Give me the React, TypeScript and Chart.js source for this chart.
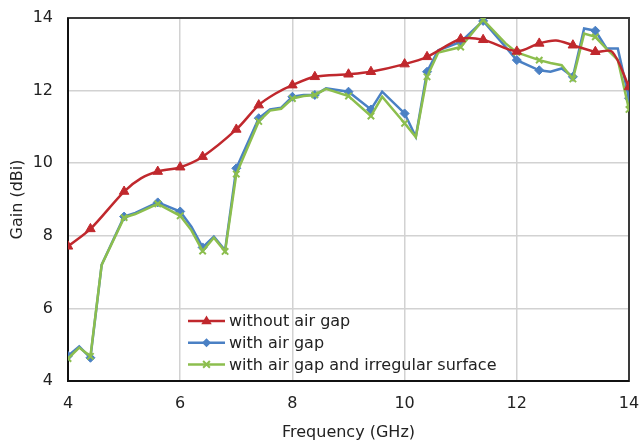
import { useEffect, useRef } from 'react';
import { Chart, registerables } from 'chart.js';

Chart.register(...registerables);

const FONT = '"DejaVu Sans", "Liberation Sans", sans-serif';

const xTicks = [4, 6, 8, 10, 12, 14];
const yTicks = [4, 6, 8, 10, 12, 14];

const seriesLabels = ['without air gap', 'with air gap', 'with air gap and irregular surface'];
const seriesColors = ['#C0282D', '#4A80C4', '#8CBE4E'];
const seriesMarkers = ['triangle', 'rectRot', 'crossRot'];

const redFreq = [4, 4.4, 5, 5.3, 5.6, 6, 6.4, 7, 7.4, 7.7, 8, 8.4, 9, 9.4, 10, 10.4, 11, 11.4, 12, 12.4, 12.7, 13, 13.4, 13.7, 14];
const redGain = [7.71, 8.19, 9.22, 9.58, 9.77, 9.89, 10.18, 10.93, 11.6, 11.92, 12.15, 12.38, 12.45, 12.52, 12.73, 12.93, 13.42, 13.4, 13.08, 13.3, 13.38, 13.25, 13.07, 13.07, 12.1];
const redMarkers = [4, 4.4, 5, 5.6, 6, 6.4, 7, 7.4, 8, 8.4, 9, 9.4, 10, 10.4, 11, 11.4, 12, 12.4, 13, 13.4, 14];

const gapFreq = [4, 4.2, 4.4, 4.6, 5, 5.2, 5.6, 6, 6.2, 6.4, 6.6, 6.8, 7, 7.4, 7.6, 7.8, 8, 8.2, 8.4, 8.6, 9, 9.4, 9.6, 10, 10.2, 10.4, 10.6, 11, 11.4, 11.8, 12, 12.4, 12.6, 12.8, 13, 13.2, 13.4, 13.6, 13.8, 14];
const blueGain = [4.69, 4.95, 4.64, 7.2, 8.53, 8.63, 8.92, 8.67, 8.25, 7.68, 7.98, 7.6, 9.86, 11.24, 11.48, 11.53, 11.83, 11.88, 11.88, 12.06, 11.97, 11.48, 11.97, 11.37, 10.73, 12.52, 13.11, 13.34, 13.92, 13.2, 12.84, 12.56, 12.52, 12.61, 12.38, 13.71, 13.65, 13.16, 13.16, 11.79];
const blueMarkers = [4, 4.4, 5, 5.6, 6, 6.4, 7, 7.4, 8, 8.4, 9, 9.4, 10, 10.4, 11, 11.4, 12, 12.4, 13, 13.4, 14];
const greenGain = [4.62, 4.92, 4.68, 7.2, 8.5, 8.6, 8.88, 8.55, 8.15, 7.58, 7.95, 7.57, 9.7, 11.15, 11.45, 11.5, 11.78, 11.85, 11.88, 12.05, 11.85, 11.3, 11.83, 11.1, 10.72, 12.38, 13.05, 13.2, 13.95, 13.3, 13.05, 12.84, 12.76, 12.7, 12.32, 13.57, 13.48, 13.15, 12.85, 11.48];
const greenMarkers = [4, 4.4, 5, 5.6, 6, 6.4, 6.8, 7, 7.4, 8, 8.4, 9, 9.4, 10, 10.4, 11, 11.4, 12, 12.4, 13, 13.4, 14];

const markerSize = [5.5, 4.5, 4.5];

function drawMarker(ctx: CanvasRenderingContext2D, style: string, x: number, y: number, r: number, color: string) {
  ctx.save();
  ctx.fillStyle = color;
  ctx.strokeStyle = color;
  ctx.lineWidth = 2;
  ctx.beginPath();
  if (style === 'triangle') {
    ctx.moveTo(x, y - r);
    ctx.lineTo(x + r * 0.95, y + r * 0.6);
    ctx.lineTo(x - r * 0.95, y + r * 0.6);
    ctx.closePath();
    ctx.fill();
  } else if (style === 'rectRot') {
    ctx.moveTo(x, y - r);
    ctx.lineTo(x + r, y);
    ctx.lineTo(x, y + r);
    ctx.lineTo(x - r, y);
    ctx.closePath();
    ctx.fill();
  } else {
    const d = r * 0.75;
    ctx.moveTo(x - d, y - d);
    ctx.lineTo(x + d, y + d);
    ctx.moveTo(x + d, y - d);
    ctx.lineTo(x - d, y + d);
    ctx.stroke();
  }
  ctx.restore();
}

const framePlugin = {
  id: 'frame',
  beforeDatasetsDraw(chart: any) {
    const { ctx, chartArea } = chart;
    ctx.save();
    ctx.strokeStyle = '#3a3a3a';
    ctx.lineWidth = 2;
    ctx.strokeRect(chartArea.left, chartArea.top, chartArea.right - chartArea.left, chartArea.bottom - chartArea.top);
    ctx.strokeStyle = '#111';
    ctx.beginPath();
    ctx.moveTo(chartArea.left, chartArea.top);
    ctx.lineTo(chartArea.left, chartArea.bottom);
    ctx.lineTo(chartArea.right, chartArea.bottom);
    ctx.stroke();
    ctx.restore();
  },
};

const legendPlugin = {
  id: 'insideLegend',
  afterDraw(chart: any) {
    const { ctx, chartArea } = chart;
    const x0 = chartArea.left + 120;
    const y0 = chartArea.bottom - 60;
    ctx.save();
    ctx.font = '16px ' + FONT;
    ctx.textBaseline = 'middle';
    ctx.textAlign = 'left';
    seriesLabels.forEach((label, i) => {
      const y = y0 + i * 21.7;
      ctx.strokeStyle = seriesColors[i];
      ctx.lineWidth = 2.5;
      ctx.beginPath();
      ctx.moveTo(x0, y);
      ctx.lineTo(x0 + 37, y);
      ctx.stroke();
      drawMarker(ctx, seriesMarkers[i], x0 + 18.5, y, markerSize[i], seriesColors[i]);
      ctx.fillStyle = '#222';
      ctx.fillText(label, x0 + 41, y + 1);
    });
    ctx.restore();
  },
};

function makePoints(freq: number[], gain: number[]) {
  return freq.map((f, i) => ({ x: f, y: gain[i] }));
}

export default function App() {
  const ref = useRef<HTMLCanvasElement | null>(null);

  useEffect(() => {
    document.body.style.margin = '0';
    const canvas = ref.current;
    if (!canvas) return;
    const markerRadius = (list: number[], r: number) => (c: any) => {
      const p = c.raw;
      return p && list.some((m) => Math.abs(m - p.x) < 1e-6) ? r : 0;
    };
    const chart = new Chart(canvas, {
      type: 'line',
      data: {
        datasets: [
          {
            label: seriesLabels[0],
            data: makePoints(redFreq, redGain),
            borderColor: seriesColors[0],
            backgroundColor: seriesColors[0],
            borderWidth: 2.5,
            pointStyle: 'triangle',
            pointRadius: markerRadius(redMarkers, 5.5),
            pointBorderWidth: 1,
            tension: 0.3,
            order: 0,
          },
          {
            label: seriesLabels[1],
            data: makePoints(gapFreq, blueGain),
            borderColor: seriesColors[1],
            backgroundColor: seriesColors[1],
            borderWidth: 2.5,
            pointStyle: 'rectRot',
            pointRadius: markerRadius(blueMarkers, 4.5),
            pointBorderWidth: 1,
            tension: 0,
            order: 2,
          },
          {
            label: seriesLabels[2],
            data: makePoints(gapFreq, greenGain),
            borderColor: seriesColors[2],
            backgroundColor: seriesColors[2],
            borderWidth: 2.5,
            pointStyle: 'crossRot',
            pointRadius: markerRadius(greenMarkers, 4.5),
            pointBorderWidth: 2,
            tension: 0,
            order: 1,
          },
        ],
      },
      options: {
        responsive: false,
        animation: false,
        layout: { padding: { top: 18, right: 12, left: 0, bottom: 0 } },
        plugins: { legend: { display: false }, tooltip: { enabled: false } },
        scales: {
          x: {
            type: 'linear',
            min: 4,
            max: 14,
            afterBuildTicks: (s: any) => {
              s.ticks = xTicks.map((v) => ({ value: v }));
            },
            afterFit: (s: any) => {
              s.height = 64;
              s.paddingLeft = 0;
              s.paddingRight = 0;
            },
            ticks: { color: '#222', font: { family: FONT, size: 16 }, padding: 13, maxRotation: 0 },
            grid: { color: '#D2D2D2', lineWidth: 1.5, drawTicks: false },
            border: { display: false },
            title: {
              display: true,
              text: 'Frequency (GHz)',
              color: '#222',
              font: { family: FONT, size: 16 },
              padding: { top: 0, bottom: 3 },
            },
          },
          y: {
            type: 'linear',
            min: 4,
            max: 14,
            afterBuildTicks: (s: any) => {
              s.ticks = yTicks.map((v) => ({ value: v }));
            },
            afterFit: (s: any) => {
              s.width = 68;
              s.paddingTop = 0;
              s.paddingBottom = 0;
            },
            ticks: { color: '#222', font: { family: FONT, size: 16 }, padding: 15 },
            grid: { color: '#D2D2D2', lineWidth: 1.5, drawTicks: false },
            border: { display: false },
            title: {
              display: true,
              text: 'Gain (dBi)',
              color: '#222',
              font: { family: FONT, size: 16 },
              padding: { top: 8, bottom: 0 },
            },
          },
        },
      },
      plugins: [framePlugin, legendPlugin],
    });
    return () => chart.destroy();
  }, []);

  return (
    <div style={{ width: 641, height: 445, background: '#fff' }}>
      <canvas ref={ref} width={641} height={445} />
    </div>
  );
}
